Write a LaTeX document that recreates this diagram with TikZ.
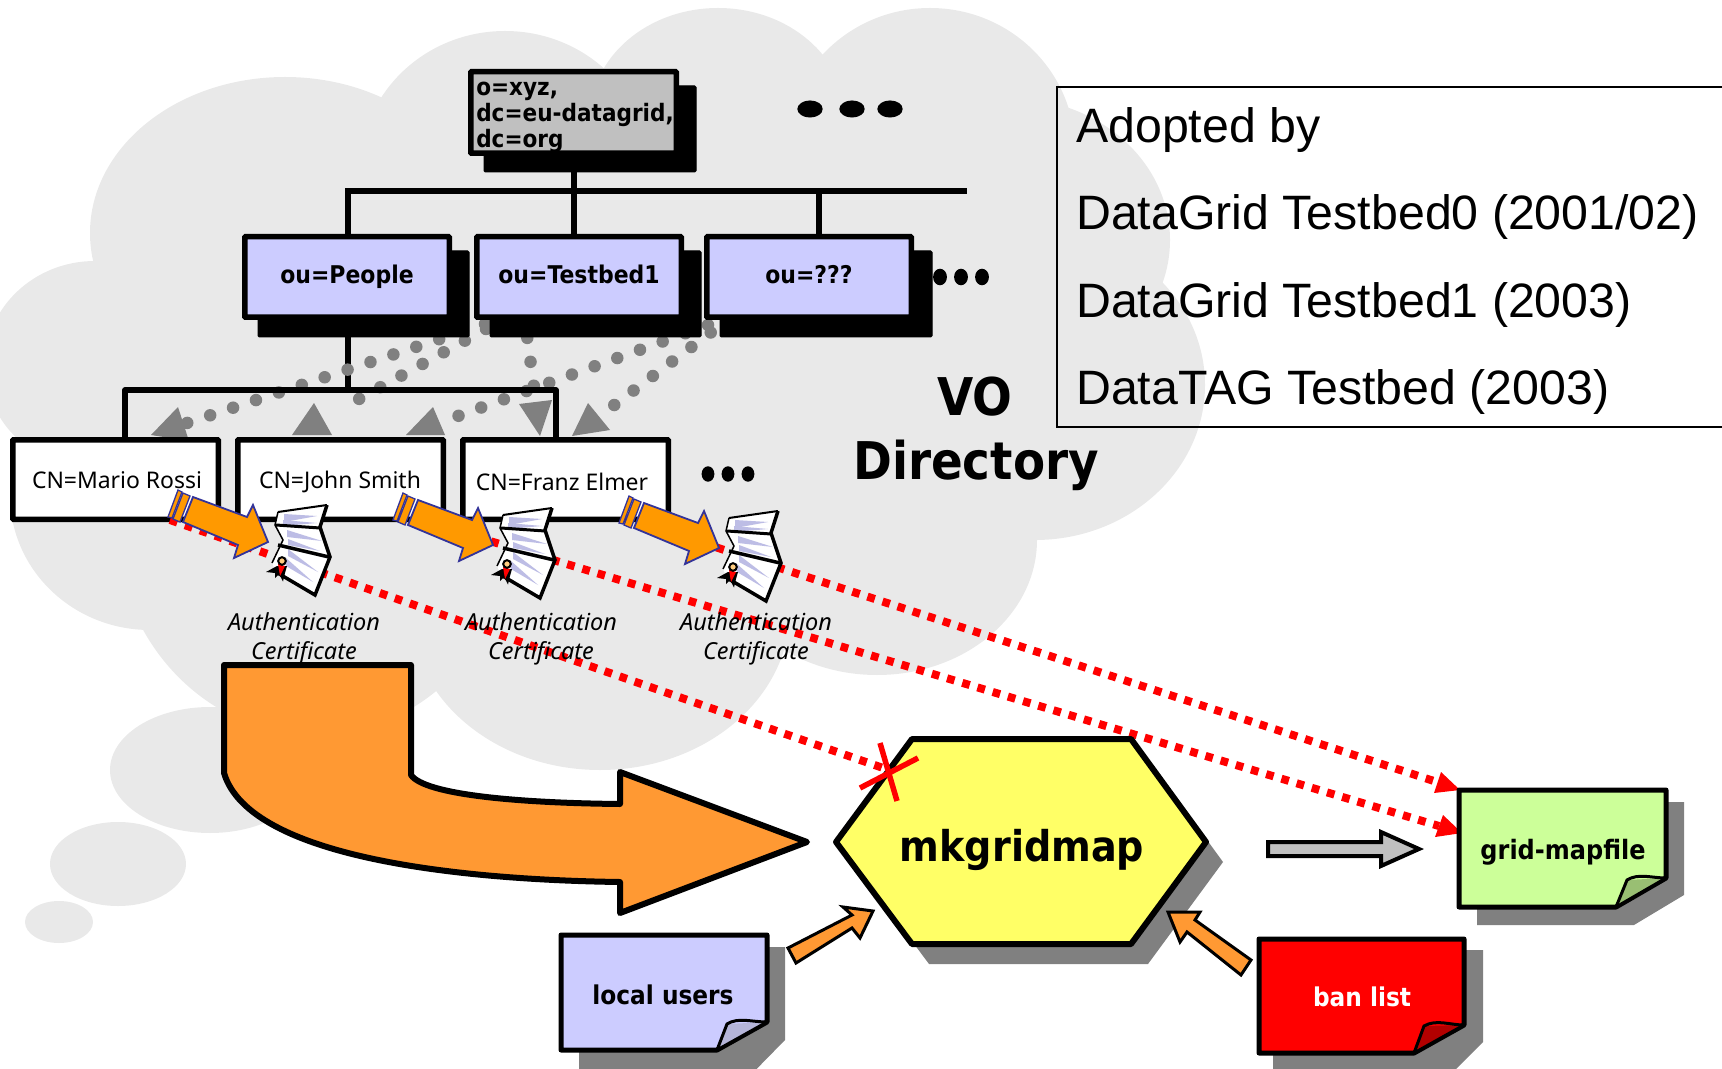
\documentclass[tikz,border=0pt]{standalone}
\usepackage{fontspec}
\setmainfont{Noto Sans}
\newfontfamily\arialf{Liberation Sans}
\newfontfamily\heavyf[FakeStretch=0.9]{DejaVu Sans Bold}
\usetikzlibrary{calc,arrows.meta,shapes.geometric}
\definecolor{cloudgray}{HTML}{E9E9E9}
\definecolor{shadegray}{HTML}{808080}
\definecolor{lilac}{HTML}{CCCCFF}
\definecolor{rootgray}{HTML}{C0C0C0}
\definecolor{bigorange}{HTML}{FF9933}
\definecolor{smallorange}{HTML}{FF9900}
\definecolor{edgeblue}{HTML}{333399}
\definecolor{mapgreen}{HTML}{CCFF99}
\definecolor{hexyellow}{HTML}{FFFF66}
\tikzset{
  x=0.75pt,y=-0.75pt,
  px/.style={line width=#1*0.75pt},
  cloudlobe/.style={fill=cloudgray,draw=none},
  tree/.style={px=5.5,draw=black},
  shadowbox/.style={fill=black,draw=black,px=1,rounded corners=1pt},
  oubox/.style={draw=black,px=5.5,fill=lilac,rounded corners=0.6pt,inner sep=0pt,anchor=north west,minimum width=0.75pt*204.5,minimum height=0.75pt*80.5,text height=14pt,text depth=4pt,font=\heavyf\fontsize{18.3}{20}\selectfont},
  cnbox/.style={draw=black,px=5.5,fill=white,rounded corners=0.6pt,inner sep=0pt,anchor=north west,minimum width=0.75pt*205.5,minimum height=0.75pt*79.5},
  cntext/.style={font=\fontsize{17.2}{20}\selectfont,inner sep=0pt},
  adopttext/.style={anchor=base west,inner sep=0pt,font=\arialf\fontsize{36.2}{40}\selectfont},
  grayhead/.style={fill=shadegray,draw=none},
  grayline/.style={draw=shadegray,px=12.5,line cap=round,dash pattern=on 0pt off 18.1pt},
  ddot/.style={fill=black,draw=none},
  reddash/.style={draw=red,px=8,dash pattern=on 5.8pt off 6.1pt},
  redhead/.style={fill=red,draw=none},
  authlabel/.style={font=\itshape\fontsize{17.6}{22.2}\selectfont,align=center},
  blockarrow/.style={draw=black,fill=bigorange,line join=round},
  sheet/.style={draw=black,px=5,line join=round},
  notetext/.style={font=\heavyf\fontsize{19.4}{22}\selectfont,inner sep=0pt},
}
\tikzset{
  certicon/.pic={
    \fill[white] (278,512)--(327,505)--(320,527)--(330,557)--(315,595)--(276,572)--(272,563)--(283,540)--(275,525)--cycle;
    \foreach \a/\b/\c/\d/\e/\f in {284/514/284/522/317/516, 283/520/283/526/317/523, 287/530/287/537/322/541, 288/539/288/545/320/551, 288/549/288/556/318/572, 286/558/286/566/313/582}
      \fill[lilac!80!gray] (\a,\b)--(\c,\d)--(\e,\f)--cycle;
    \draw[black,px=1.5] (278,512)--(275,525)--(283,540)--(272,563);
    \draw[black,px=2] (278,512)--(327,505);
    \draw[black,px=3.5,line join=miter] (327,505)--(320,527)--(330,557)--(315,595)--(276,572);
    \draw[black,px=3] (276,525)--(320,528);
    \draw[black,px=3.5] (278,545)--(329,557);
    \fill[black] (266,572)--(277,566)--(287,566)--(285,573)--(283,581.5)--(279,574)--(275,578)--(275,573)--cycle;
    \fill[red] (278,564)--(285,566)--(280,576)--cycle;
    \draw[black,px=2,fill=smallorange!50] (282,561) circle[radius=3.8];
  },
  tailarrow/.pic={
    \draw[edgeblue,px=1.3,fill=smallorange] (178,490)--(182,492)--(172,518)--(168,517)--cycle;
    \draw[edgeblue,px=1.3,fill=smallorange] (183,493)--(190,496)--(180,522)--(173,519)--cycle;
    \draw[edgeblue,px=1.8,fill=smallorange] (193,497)--(247,517)--(253,505)--(268,542)--(234,558)--(238,545)--(183,522)--cycle;
  },
}
\begin{document}
\begin{tikzpicture}
\useasboundingbox (0,0) rectangle (1722,1069);
\clip (0,0) rectangle (1722,1069);
% cloud
\foreach \cx/\cy/\rx/\ry in {
   285/233/195/156, 505/170/145/139, 718/118/128/110, 930/150/145/142,
   1010/240/160/142, 1035/385/170/155, 877/540/160/135, 600/610/190/160,
   315/520/200/215, 150/495/140/135, 95/365/110/104,
   210/770/100/63, 118/864/68/42, 59/922/34/21}
   \fill[cloudlobe] (\cx,\cy) ellipse[x radius=\rx*0.75pt, y radius=\ry*0.75pt];
\fill[cloudlobe] (100,280)--(380,120)--(610,100)--(825,80)--(1060,130)--(1155,282)--(1190,420)--(1039,530)--(790,640)--(220,680)--(20,500)--cycle;
% adopted box
\draw[draw=black,px=1.8] (1800,87) -- (1057,87) -- (1057,427) -- (1800,427);
\node[adopttext] (adopt0) at (1076,143) {Adopted by};
\node[adopttext] (adopt1) at (1076,230) {DataGrid Testbed0 (2001/02)};
\node[adopttext] (adopt2) at (1076,318) {DataGrid Testbed1 (2003)};
\node[adopttext] (adopt3) at (1076,405) {DataTAG Testbed (2003)};
% tree lines
\coordinate (rootfoot) at (574,165);
\coordinate (busL) at (348,191);
\coordinate (busM) at (574,191);
\coordinate (busO) at (819,191);
\coordinate (busR) at (964,191);
\draw[tree] (rootfoot)--(busM);
\draw[tree,line cap=rect] (busR)--(busL);
\draw[tree] (busL)--(348,240);
\draw[tree] (busM)--(574,240);
\draw[tree] (busO)--(819,240);
\coordinate (cnJoin) at (348,390);
\coordinate (cnL) at (125,390);
\coordinate (cnR) at (556,390);
\draw[tree] (348,330)--(cnJoin);
% gray dotted connectors
\coordinate (a0) at (485,324); \coordinate (a1) at (151,435); \coordinate (a2) at (187,423);
\coordinate (b0) at (486,329); \coordinate (b1) at (292,435); \coordinate (b2) at (339,410);
\coordinate (f0) at (708,325); \coordinate (f1) at (406,435); \coordinate (f2) at (436,424);
\coordinate (d0) at (524,314); \coordinate (d1) at (540,436); \coordinate (d2) at (537,409);
\coordinate (e0) at (730,318); \coordinate (e1) at (572,436); \coordinate (e2) at (597,418);
\foreach \s/\t in {a0/a2,b0/b2,f0/f2,d0/d2,e0/e2}
  \draw[grayline] (\s)--(\t);
\draw[tree,line join=round] (125,440)--(cnL)--(cnR)--(556,440);
\fill[grayhead] (a1)--(178,407)--(189,441)--cycle;
\fill[grayhead] (b1)--(314,403)--(332,435)--cycle;
\fill[grayhead] (f1)--(433,407)--(445,435)--cycle;
\fill[grayhead] (d1)--(519,404)--(552,400)--cycle;
\fill[grayhead] (e1)--(588,403)--(610,430)--cycle;
% root
\fill[shadowbox] (484,86) rectangle (696,172);
\node[draw=black,px=5.5,fill=rootgray,rounded corners=0.6pt,inner sep=0pt,minimum width=0.75pt*205.5,minimum height=0.75pt*81.5,anchor=north west] (root) at (468,69) {};
\node[anchor=north west,inner sep=0pt,align=left,font=\heavyf\fontsize{18}{19.3}\selectfont] (roottext) at (476,82) {o=xyz,\\dc=eu-datagrid,\\dc=org};
% ou
\fill[shadowbox] (258,251) rectangle (469,337);
\fill[shadowbox] (490,251) rectangle (701,337);
\fill[shadowbox] (720,251) rectangle (932,337);
\node[oubox] (people) at (242,234) {ou=People};
\node[oubox] (testbed) at (474,234) {ou=Testbed1};
\node[oubox] (unknown) at (704,234) {ou=???};
% dots
\foreach \x in {810,852,890} \fill[ddot] (\x,109) ellipse[x radius=9.5pt,y radius=6.4pt];
\foreach \x in {940,961,982} \fill[ddot] (\x,277) ellipse[x radius=5.2pt,y radius=6.2pt];
\foreach \x in {708,728,748} \fill[ddot] (\x,474) ellipse[x radius=4.8pt,y radius=5.8pt];
% CN boxes
\node[cnbox] (mario) at (10,437) {};
\node[cnbox] (john) at (235,437) {};
\node[cnbox] (franz) at (460,437) {};
\node[cntext] (mariot) at (117,480) {CN=Mario Rossi};
\node[cntext] (johnt) at (340,482) {CN=John Smith};
\node[cntext] (franzt) at (562,482) {CN=Franz Elmer};
% VO Directory
\node[font=\heavyf\fontsize{39}{44}\selectfont,inner sep=0pt] (vo) at (975,397) {VO};
\node[font=\heavyf\fontsize{39}{44}\selectfont,inner sep=0pt] (directory) at (976,465) {Directory};
% red lines
\coordinate (r1) at (170,520);\coordinate (xc) at (886,769);
\coordinate (r2) at (400,514);\coordinate (t2) at (1439,826);
\coordinate (r3) at (626,518);\coordinate (t3) at (1437,782);
\draw[reddash] (r1)--(xc);
\draw[reddash] (r2)--(t2);
\draw[reddash] (r3)--(t3);
\foreach \dx/\dy in {0/0,225/3,451/6}{
  \pic at (\dx,\dy) {tailarrow};
  \pic at (\dx,\dy) {certicon};
}
\node[authlabel] (auth1) at (304,639) {Authentication\\[-1pt]Certificate};
\node[authlabel] (auth2) at (541,639) {Authentication\\[-1pt]Certificate};
\node[authlabel] (auth3) at (756,639) {Authentication\\[-1pt]Certificate};
% big arrow
\draw[blockarrow,px=6] (224,665)--(411,665)--(411,775) .. controls (425,795) and (520,803) .. (620,804)
  --(620,772)--(807,842)--(620,913)--(620,882)
  .. controls (470,880) and (250,860) .. (224,773)--cycle;
% hexagon
\fill[shadegray] (853,862)--(929,759)--(1148,759)--(1223,862)--(1148,964)--(929,964)--cycle;
\draw[draw=black,px=6,fill=hexyellow,line join=round] (836,842)--(912,739)--(1131,739)--(1206,842)--(1131,944)--(912,944)--cycle;
\node[font=\heavyf\fontsize{31.8}{36}\selectfont,inner sep=0pt] (hex) at (1022,850) {mkgridmap};
% red arrow heads
\fill[redhead] (1460,790)--(1434,793)--(1441,772)--cycle;
\fill[redhead] (1462,833)--(1435,837)--(1443,815)--cycle;
% red X
\draw[red,px=5.5] (880,743)--(897,801);
\draw[red,px=5.5] (860,788)--(918,758);
% gray arrow
\draw[draw=black,px=4,fill=rootgray,line join=miter] (1268,842)--(1381,842)--(1381,832)--(1419,849)--(1381,866)--(1381,856)--(1268,856)--cycle;
% notes
\fill[shadegray] (579,947)--(785,947)--(785,1040)--(736,1090)--(579,1090)--cycle;
\draw[sheet,fill=lilac] (561,935)--(767,935)--(767,1022)--(717,1050)--(561,1050)--cycle;
\fill[lilac!70!gray] (717,1050)--(728,1024)--(767,1022)--cycle;
\draw[black,px=3] (717,1050)--(767,1022);
\draw[black,px=3] (717,1050)--(727,1024) .. controls (738,1017) and (752,1022) .. (767,1022);
\node[notetext] (local) at (663,995) {local users};
\fill[shadegray] (1477,802)--(1684,802)--(1684,895)--(1634,925)--(1477,925)--cycle;
\draw[sheet,fill=mapgreen] (1459,790)--(1666,790)--(1666,878)--(1616,907)--(1459,907)--cycle;
\fill[mapgreen!75!black] (1616,907)--(1627,880)--(1666,878)--cycle;
\draw[black,px=3] (1616,907)--(1666,878);
\draw[black,px=3] (1616,907)--(1627,880) .. controls (1638,873) and (1652,878) .. (1666,878);
\node[notetext,font=\heavyf\fontsize{20}{22}\selectfont] (gmap) at (1563,852) {grid-mapfile};
\fill[shadegray] (1273,950)--(1483,950)--(1483,1042)--(1435,1090)--(1273,1090)--cycle;
\draw[sheet,fill=red] (1259,939)--(1464,939)--(1464,1025)--(1414,1053)--(1259,1053)--cycle;
\fill[red!70!black] (1414,1053)--(1425,1026)--(1464,1025)--cycle;
\draw[black,px=3] (1414,1053)--(1464,1025);
\draw[black,px=3] (1414,1053)--(1424,1026) .. controls (1436,1019) and (1450,1025) .. (1464,1025);
\node[notetext,text=white] (ban) at (1362,997) {ban list};
% small orange arrows
\draw[draw=black,px=3,fill=bigorange,line join=miter] (788,948)--(852,915)--(843,907)--(873,911)--(860,938)--(852,928)--(796,963)--cycle;
\draw[draw=black,px=3,fill=bigorange,line join=miter] (1251,960)--(1195,920)--(1200,912)--(1168,912)--(1180,942)--(1187,932)--(1241,975)--cycle;
\end{tikzpicture}
\end{document}
